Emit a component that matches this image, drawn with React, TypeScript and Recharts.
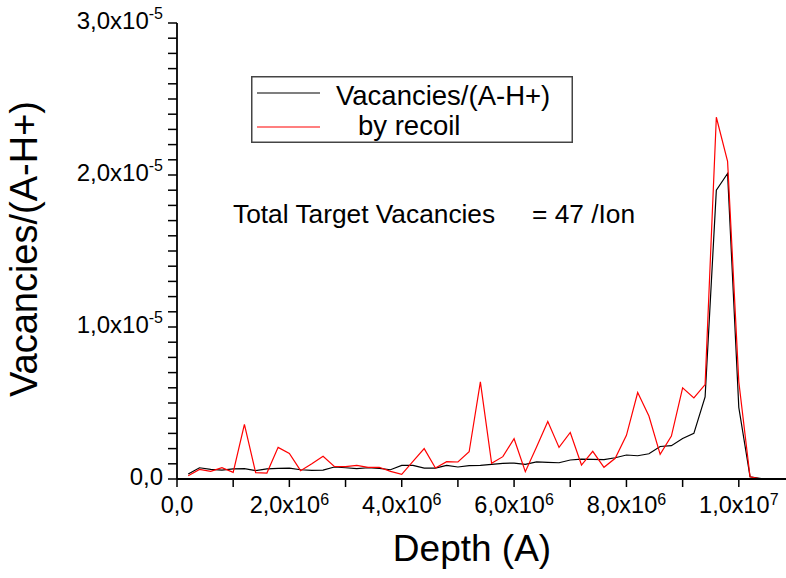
import React from 'react'
import { LineChart, Line, XAxis, YAxis, Legend } from 'recharts'

// ── Data (depth in 10^6 A, vacancies in 10^-6 per ion per A) ─────────────────

const depth = [
  0.2, 0.4, 0.6, 0.8, 1.0, 1.2, 1.4, 1.6, 1.8, 2.0,
  2.2, 2.4, 2.6, 2.8, 3.0, 3.2, 3.4, 3.6, 3.8, 4.0,
  4.2, 4.4, 4.6, 4.8, 5.0, 5.2, 5.4, 5.6, 5.8, 6.0,
  6.2, 6.4, 6.6, 6.8, 7.0, 7.2, 7.4, 7.6, 7.8, 8.0,
  8.2, 8.4, 8.6, 8.8, 9.0, 9.2, 9.4, 9.6, 9.8, 10.0,
  10.2, 10.4,
]

const vacancies = [
  0.33, 0.74, 0.63, 0.59, 0.66, 0.68, 0.55, 0.66, 0.7, 0.72,
  0.61, 0.57, 0.59, 0.79, 0.74, 0.68, 0.74, 0.7, 0.61, 0.9,
  0.9, 0.72, 0.72, 0.9, 0.79, 0.88, 0.9, 0.96, 1.03, 1.05,
  0.96, 1.12, 1.09, 1.07, 1.25, 1.31, 1.29, 1.27, 1.4, 1.58,
  1.53, 1.66, 2.14, 2.19, 2.67, 3.0, 5.4, 19.0, 20.1, 4.7,
  0.15, 0.02,
]

const byRecoil = [
  0.22, 0.63, 0.5, 0.74, 0.44, 3.6, 0.42, 0.39, 2.08, 1.68,
  0.55, 1.0, 1.49, 0.83, 0.81, 0.9, 0.77, 0.77, 0.5, 0.31,
  1.16, 2.0, 0.72, 1.14, 1.12, 1.79, 6.39, 1.03, 1.47, 2.65,
  0.48, 2.1, 3.79, 2.08, 3.06, 0.92, 1.82, 0.77, 1.36, 2.87,
  5.69, 4.14, 1.62, 2.82, 6.0, 5.34, 6.21, 23.8, 20.9, 6.4,
  0.15, 0.0,
]

const xTicks = [0, 1, 2, 3, 4, 5, 6, 7, 8, 9, 10]
const xTickLabels: Record<number, [string, string]> = {
  0: ['0,0', ''],
  2: ['2,0x10', '6'],
  4: ['4,0x10', '6'],
  6: ['6,0x10', '6'],
  8: ['8,0x10', '6'],
  10: ['1,0x10', '7'],
}

const yTicks = [
  0, 1, 2, 3, 4, 5, 6, 7, 8, 9, 10, 11, 12, 13, 14, 15,
  16, 17, 18, 19, 20, 21, 22, 23, 24, 25, 26, 27, 28, 29, 30,
]
const yTickLabels: Record<number, [string, string]> = {
  0: ['0,0', ''],
  10: ['1,0x10', '-5'],
  20: ['2,0x10', '-5'],
  30: ['3,0x10', '-5'],
}

const data = depth.map((d, i) => ({
  depth: d,
  vac: vacancies[i],
  recoil: byRecoil[i],
}))

// ── Layout ──────────────────────────────────────────────────────────────────

const W = 786
const H = 578
const FONT = '"Liberation Sans", Arial, sans-serif'
const X_MAX = 10.84

// ── Ticks ───────────────────────────────────────────────────────────────────

function XTick(props: any) {
  const { x, y, payload } = props
  const lab = xTickLabels[payload.value]
  if (!lab) return <g />
  return (
    <text x={x} y={y + 26} textAnchor="middle" fontFamily={FONT} fontSize={23.5} fill="#000">
      {lab[0]}
      {lab[1] && <tspan dy={-8} fontSize={16}>{lab[1]}</tspan>}
    </text>
  )
}

function YTick(props: any) {
  const { x, y, payload } = props
  const lab = yTickLabels[payload.value]
  if (!lab) return <g />
  return (
    <text x={x - 5} y={y + 6} textAnchor="end" fontFamily={FONT} fontSize={24} fill="#000">
      {lab[0]}
      {lab[1] && <tspan dy={-10} fontSize={16}>{lab[1]}</tspan>}
    </text>
  )
}

function NoTick() {
  return <g />
}

// ── Legend ──────────────────────────────────────────────────────────────────

const legendTextX = [85, 107]

function LegendBox({ payload }: { payload?: any[] }) {
  return (
    <svg width={322} height={67} style={{ display: 'block' }}>
      <rect x={0.75} y={0.75} width={320.5} height={65.5} fill="#fff" stroke="#444" strokeWidth={1.5} />
      {(payload || []).map((p, i) => (
        <g key={i}>
          <line x1={6} x2={69} y1={17 + i * 34} y2={17 + i * 34} stroke={p.color} strokeWidth={1.2} />
          <text x={legendTextX[i]} y={29 + i * 30} fontFamily={FONT} fontSize={27.5} fill="#000">
            {p.value}
          </text>
        </g>
      ))}
    </svg>
  )
}

export default function App() {
  return (
    <div style={{ position: 'absolute', left: 0, top: 0, width: W, height: H, background: '#fff' }}>
      <LineChart width={W} height={H} data={data} margin={{ top: 23, right: 0, bottom: 0, left: 0 }}>
        <XAxis
          dataKey="depth"
          type="number"
          domain={[0, X_MAX]}
          allowDataOverflow
          ticks={xTicks}
          interval={0}
          height={99}
          tickSize={8}
          tickMargin={0}
          tick={XTick}
          axisLine={{ stroke: '#000', strokeWidth: 1.8 }}
          tickLine={{ stroke: '#000', strokeWidth: 1.5 }}
        />
        <XAxis
          xAxisId="top"
          dataKey="depth"
          type="number"
          orientation="top"
          mirror
          domain={[0, X_MAX]}
          allowDataOverflow
          ticks={xTicks}
          interval={0}
          height={0}
          tickSize={9}
          tick={NoTick}
          axisLine={{ stroke: '#000', strokeWidth: 1.8 }}
          tickLine={{ stroke: '#000', strokeWidth: 1.5 }}
        />
        <YAxis
          type="number"
          domain={[0, 30]}
          allowDataOverflow
          ticks={yTicks}
          interval={0}
          width={177}
          tickSize={9}
          tickMargin={0}
          tick={YTick}
          axisLine={{ stroke: '#000', strokeWidth: 1.8 }}
          tickLine={{ stroke: '#000', strokeWidth: 1.5 }}
        />
        <Legend
          layout="vertical"
          verticalAlign="middle"
          align="center"
          wrapperStyle={{ left: 251, top: 76, width: 322, height: 67 }}
          content={(p: any) => <LegendBox payload={p.payload} />}
        />
        <Line
          name="Vacancies/(A-H+)"
          dataKey="vac"
          stroke="#000000"
          strokeWidth={1.2}
          dot={false}
          isAnimationActive={false}
        />
        <Line
          name="by recoil"
          dataKey="recoil"
          stroke="#ff0000"
          strokeWidth={1.2}
          dot={false}
          isAnimationActive={false}
        />
      </LineChart>
      <svg
        width={W}
        height={H}
        style={{ position: 'absolute', left: 0, top: 0, pointerEvents: 'none' }}
      >
        <text x={233} y={223} fontFamily={FONT} fontSize={26.3} fill="#000">
          Total Target Vacancies
        </text>
        <text x={532} y={223} fontFamily={FONT} fontSize={26.3} fill="#000">
          = 47 /Ion
        </text>
        <text x={472} y={561} textAnchor="middle" fontFamily={FONT} fontSize={37} fill="#000">
          Depth (A)
        </text>
        <text
          transform="translate(37,249) rotate(-90)"
          textAnchor="middle"
          fontFamily={FONT}
          fontSize={38}
          fill="#000"
        >
          Vacancies/(A-H+)
        </text>
      </svg>
    </div>
  )
}
